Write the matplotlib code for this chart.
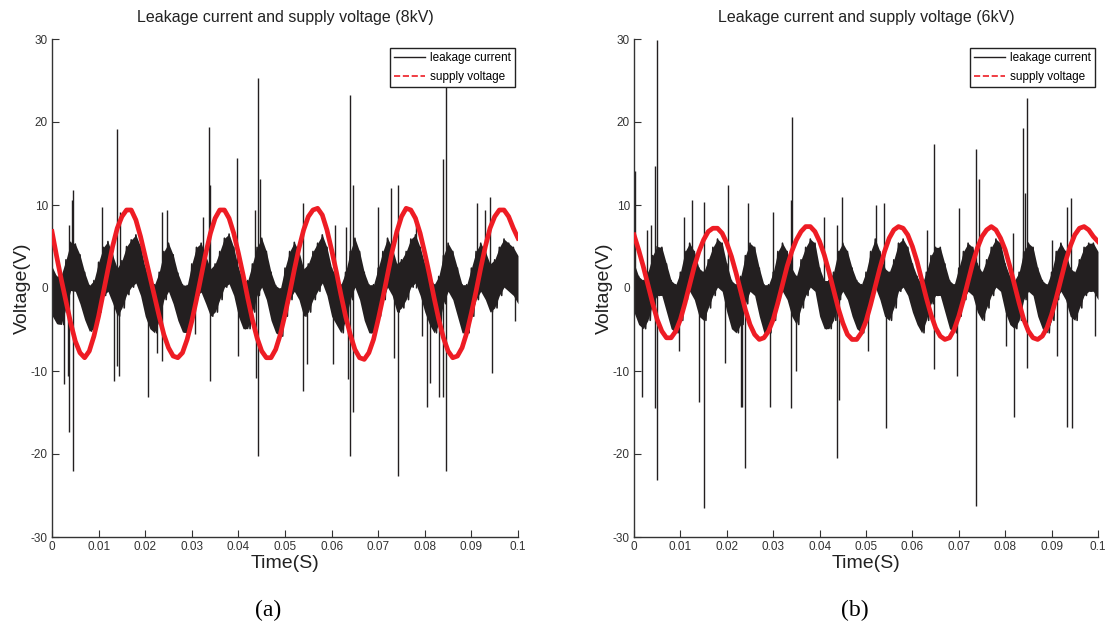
import numpy as np
import matplotlib
matplotlib.use('Agg')
import matplotlib.pyplot as plt
from matplotlib.lines import Line2D

# sample times, one reading per millisecond
time_s = np.arange(101) / 1000.0

# ---- (a) 8kV ----
volt_a = [6.8, 3.8, 1.0, -1.6, -4.2, -6.4, -7.8, -8.4, -7.6, -5.8,
          -3.4, -0.6, 2.2, 5.0, 7.2, 8.6, 9.4, 9.4, 8.2, 6.2,
          3.8, 1.4, -1.0, -3.4, -5.6, -7.2, -8.2, -8.4, -7.8, -6.2,
          -4.0, -1.4, 1.4, 4.2, 6.6, 8.4, 9.4, 9.4, 8.4, 6.6,
          4.2, 1.6, -1.2, -3.8, -6.0, -7.6, -8.4, -8.4, -7.4, -5.6,
          -3.2, -0.6, 2.2, 4.8, 7.0, 8.6, 9.4, 9.6, 8.8, 7.0,
          4.6, 2.0, -0.8, -3.4, -5.6, -7.4, -8.4, -8.6, -7.8, -6.2,
          -3.8, -1.2, 1.6, 4.4, 6.8, 8.6, 9.6, 9.4, 8.4, 6.6,
          4.2, 1.6, -1.2, -3.8, -6.0, -7.6, -8.4, -8.2, -7.2, -5.4,
          -3.0, -0.4, 2.4, 5.0, 7.2, 8.6, 9.4, 9.4, 8.6, 7.2,
          6.0]

leak_hi_a = [2.6, 1.4, 1.6, 3.4, 5.5, 5.3, 4.0, 1.9, 0.3, 0.9,
             3.1, 4.9, 5.6, 4.0, 2.4, 3.3, 5.0, 5.8, 6.4, 5.0,
             2.4, 0.9, 0.4, 1.9, 4.4, 5.4, 4.0, 1.8, 0.4, 0.3,
             2.9, 4.9, 5.4, 3.9, 2.3, 2.9, 4.4, 6.0, 6.5, 4.9,
             2.4, 0.9, 0.9, 2.9, 4.9, 6.0, 4.4, 1.9, 0.3, -0.1,
             2.4, 4.4, 5.5, 4.4, 2.3, 2.9, 4.4, 5.4, 6.4, 4.9,
             2.4, 1.4, 0.4, 1.9, 4.4, 6.0, 4.4, 1.9, 0.4, 0.4,
             2.4, 4.4, 6.0, 4.9, 2.9, 3.4, 4.4, 5.9, 6.4, 4.9,
             2.9, 1.4, 0.4, 1.4, 3.9, 5.4, 4.4, 2.4, 0.4, 0.4,
             2.4, 4.4, 5.4, 4.4, 2.9, 3.4, 4.9, 5.9, 5.4, 4.9,
             3.9]
leak_lo_a = [-3.3, -4.3, -4.4, -2.4, -0.3, -0.4, -1.9, -3.8, -5.2, -4.9,
             -2.9, -0.9, -0.4, -1.8, -3.4, -2.4, -0.8, 0.1, 0.6, -0.9,
             -3.4, -4.9, -5.4, -3.9, -1.4, -0.4, -1.9, -3.9, -5.3, -5.4,
             -2.9, -0.9, -0.5, -1.9, -3.4, -2.9, -1.4, 0.1, 0.5, -0.9,
             -3.4, -4.9, -4.9, -2.9, -0.9, 0.1, -1.4, -3.9, -5.4, -5.8,
             -3.4, -1.4, -0.4, -1.4, -3.4, -2.9, -1.4, -0.4, 0.6, -0.9,
             -3.4, -4.4, -5.4, -3.9, -1.4, 0.1, -1.4, -3.9, -5.4, -5.4,
             -3.4, -1.4, 0.1, -0.9, -2.9, -2.4, -1.4, 0.1, 0.6, -0.9,
             -2.9, -4.4, -5.4, -4.4, -1.9, -0.4, -1.4, -3.4, -5.4, -5.4,
             -3.4, -1.4, -0.4, -1.4, -2.9, -2.4, -0.9, 0.1, -0.4, -0.9,
             -1.9]

spike_t_a = [0.0036, 0.0042, 0.0046, 0.0107, 0.0139, 0.0146, 0.0235, 0.0246,
             0.0325, 0.0337, 0.034, 0.0396, 0.0436, 0.0441, 0.0446, 0.0539,
             0.0607, 0.0631, 0.064, 0.0645, 0.0699, 0.0728, 0.0743, 0.0781,
             0.084, 0.0845, 0.0913, 0.0929, 0.094,
             0.0026, 0.0034, 0.0037, 0.0046, 0.0134, 0.014, 0.0144, 0.0205,
             0.0225, 0.0235, 0.0307, 0.034, 0.04, 0.0438, 0.0442, 0.0539,
             0.0548, 0.0604, 0.0636, 0.064, 0.0645, 0.0734, 0.0743, 0.0793,
             0.0805, 0.0811, 0.0831, 0.084, 0.0845, 0.0944, 0.0993]
spike_v_a = [7.6, 10.6, 11.8, 9.8, 19.2, 9.2, 9.2, 9.4,
             8.6, 19.4, 12.4, 15.7, 9.4, 25.3, 13.1, 10.3,
             7.6, 7.4, 23.3, 12.4, 9.7, 12.0, 12.4, 8.0,
             15.5, 26.0, 10.2, 9.4, 11.0,
             -11.6, -10.6, -17.3, -22.1, -11.2, -9.4, -10.6, -13.1,
             -7.8, -8.8, -5.6, -11.2, -8.2, -10.8, -20.3, -12.4,
             -9.2, -9.2, -11.0, -20.3, -14.9, -8.4, -22.7, -5.8,
             -14.3, -11.4, -13.1, -13.1, -22.1, -10.2, -4.0]

# ---- (b) 6kV ----
volt_b = [6.4, 4.6, 2.6, 0.4, -1.8, -3.8, -5.2, -6.0, -6.0, -5.2,
          -3.8, -1.8, 0.4, 2.6, 4.4, 5.8, 6.8, 7.2, 7.2, 6.6,
          5.4, 3.8, 1.8, -0.4, -2.6, -4.4, -5.6, -6.2, -6.0, -5.2,
          -3.8, -1.8, 0.4, 2.6, 4.4, 5.8, 6.8, 7.4, 7.4, 6.8,
          5.6, 4.0, 2.0, -0.2, -2.4, -4.2, -5.6, -6.2, -6.2, -5.4,
          -4.0, -2.0, 0.2, 2.4, 4.4, 6.0, 7.0, 7.4, 7.2, 6.4,
          5.0, 3.2, 1.0, -1.2, -3.2, -4.8, -5.8, -6.2, -6.0, -5.0,
          -3.4, -1.4, 0.8, 3.0, 4.8, 6.2, 7.0, 7.4, 7.0, 6.0,
          4.6, 2.6, 0.4, -1.8, -3.8, -5.2, -6.0, -6.2, -5.8, -4.8,
          -3.2, -1.2, 1.0, 3.2, 5.0, 6.4, 7.2, 7.4, 7.0, 6.2,
          5.6]

leak_hi_b = [3.0, 1.4, 0.9, 1.9, 3.9, 5.0, 4.9, 2.9, 0.9, 0.4,
             1.9, 4.4, 5.4, 4.4, 2.4, 1.9, 3.4, 4.9, 5.9, 5.4,
             2.9, 0.9, 0.4, 1.4, 3.9, 5.4, 4.9, 2.4, 0.4, 0.4,
             1.9, 4.4, 5.4, 4.4, 2.4, 1.4, 3.4, 4.9, 5.9, 5.4,
             2.4, 0.9, 0.9, 1.9, 4.4, 5.4, 4.4, 2.4, 0.9, 0.4,
             1.9, 4.4, 5.9, 4.4, 2.4, 1.9, 3.4, 5.4, 5.9, 4.9,
             2.9, 1.4, 0.4, 1.9, 3.9, 4.9, 4.9, 2.9, 0.9, 0.4,
             2.4, 4.4, 5.4, 4.9, 2.9, 1.9, 3.4, 4.9, 5.9, 5.4,
             2.9, 1.4, 0.9, 1.9, 4.4, 5.4, 4.9, 2.4, 0.9, 0.4,
             1.9, 4.4, 5.4, 4.4, 2.4, 1.9, 3.4, 4.9, 5.4, 5.4,
             4.4]
leak_lo_b = [-2.9, -4.4, -4.9, -3.9, -1.9, -0.9, -0.9, -2.9, -4.9, -5.4,
             -3.9, -1.4, -0.4, -1.4, -3.4, -3.9, -2.4, -0.9, 0.1, -0.4,
             -2.9, -4.9, -5.4, -4.4, -1.9, -0.4, -0.9, -3.4, -5.4, -5.4,
             -3.9, -1.4, -0.4, -1.4, -3.4, -4.4, -2.4, -0.9, 0.1, -0.4,
             -3.4, -4.9, -4.9, -3.9, -1.4, -0.4, -1.4, -3.4, -4.9, -5.4,
             -3.9, -1.4, 0.1, -1.4, -3.4, -3.9, -2.4, -0.4, 0.1, -0.9,
             -2.9, -4.4, -5.4, -3.9, -1.9, -0.9, -0.9, -2.9, -4.9, -5.4,
             -3.4, -1.4, -0.4, -0.9, -2.9, -3.9, -2.4, -0.9, 0.1, -0.4,
             -2.9, -4.4, -4.9, -3.9, -1.4, -0.4, -0.9, -3.4, -4.9, -5.4,
             -3.9, -1.4, -0.4, -1.4, -3.4, -3.9, -2.4, -0.9, -0.4, -0.4,
             -1.4]

spike_t_b = [0.0003, 0.0028, 0.0036, 0.0046, 0.0049, 0.0107, 0.0125, 0.015,
             0.0203, 0.0246, 0.03, 0.0338, 0.0341, 0.0409, 0.0438, 0.0448,
             0.0522, 0.0538, 0.0632, 0.0647, 0.07, 0.0738, 0.0743, 0.0816,
             0.0838, 0.0842, 0.0847, 0.0901, 0.0933, 0.0941,
             0.0017, 0.0046, 0.0049, 0.0097, 0.014, 0.015, 0.0196, 0.023,
             0.0232, 0.024, 0.0294, 0.0338, 0.035, 0.0438, 0.0441, 0.0504,
             0.0543, 0.0647, 0.0697, 0.0738, 0.0801, 0.082, 0.0847, 0.0911,
             0.0934, 0.0943, 0.0994]
spike_v_b = [14.1, 7.0, 7.6, 14.7, 29.9, 8.6, 10.6, 10.4,
             12.4, 10.2, 9.1, 10.6, 20.6, 8.6, 7.6, 11.0,
             10.0, 10.3, 7.0, 17.3, 9.6, 16.7, 13.1, 6.6,
             19.3, 11.4, 22.9, 5.8, 9.8, 10.8,
             -13.1, -14.5, -23.1, -7.6, -13.7, -26.5, -9.0, -14.3,
             -14.3, -21.7, -14.3, -14.5, -10.0, -20.5, -13.5, -7.6,
             -16.9, -9.8, -10.6, -26.3, -7.0, -15.5, -9.6, -8.2,
             -16.7, -16.9, -5.8]

x_ticks = [0, 0.01, 0.02, 0.03, 0.04, 0.05, 0.06, 0.07, 0.08, 0.09, 0.1]
x_tick_labels = ['0', '0.01', '0.02', '0.03', '0.04', '0.05', '0.06',
                 '0.07', '0.08', '0.09', '0.1']
y_ticks = [-30, -20, -10, 0, 10, 20, 30]

titles = ['Leakage current and supply voltage (8kV)',
          'Leakage current and supply voltage (6kV)']
panel_tags = ['(a)', '(b)']

SANS = 'Liberation Sans'
BLACK = '#231f20'
RED = '#ee1c24'


def draw_panel(ax, title, volt, hi, lo, sp_t, sp_v):
    # dense leakage trace: solid band between the read envelopes,
    # with the raw up/down swing drawn over it
    ax.fill_between(time_s, lo, hi, color=BLACK, lw=0, zorder=2)
    t_zig = np.column_stack([time_s, time_s + 0.0005]).ravel()
    v_zig = np.column_stack([hi, lo]).ravel()
    ax.plot(t_zig, v_zig, color=BLACK, lw=1.2, zorder=2)
    ax.vlines(sp_t, 0, sp_v, color=BLACK, lw=1.0, zorder=2)
    ax.plot(time_s, volt, color=RED, lw=3.4, zorder=3, solid_joinstyle='round')

    ax.set_xlim(0, 0.1)
    ax.set_ylim(-30, 30)
    ax.set_xticks(x_ticks)
    ax.set_xticklabels(x_tick_labels, fontfamily=SANS, fontsize=8.5)
    ax.set_yticks(y_ticks)
    ax.set_yticklabels([str(v) for v in y_ticks], fontfamily=SANS, fontsize=8.5)
    ax.tick_params(direction='in', length=5, width=0.8, colors='#333333', pad=3)
    for side in ['top', 'right']:
        ax.spines[side].set_visible(False)
    for side in ['left', 'bottom']:
        ax.spines[side].set_color('#333333')
        ax.spines[side].set_linewidth(1.0)

    ax.set_title(title, fontfamily=SANS, fontsize=11.5, pad=12, color='#222222')
    ax.set_xlabel('Time(S)', fontfamily=SANS, fontsize=14, labelpad=1, color='#222222')
    ax.set_ylabel('Voltage(V)', fontfamily=SANS, fontsize=14,
                  labelpad=0, color='#222222')

    handles = [Line2D([], [], color=BLACK, lw=1.0),
               Line2D([], [], color=RED, lw=1.2, ls='--')]
    leg = ax.legend(handles, ['leakage current', 'supply voltage'],
                    loc='upper right', bbox_to_anchor=(0.993, 0.982),
                    borderaxespad=0, fancybox=False, framealpha=1,
                    edgecolor='#222222', handlelength=2.6, handletextpad=0.4,
                    labelspacing=0.6, borderpad=0.35,
                    prop={'family': SANS, 'size': 8.5})
    leg.get_frame().set_linewidth(1.0)
    leg.set_zorder(5)


fig = plt.figure(figsize=(11.09, 6.31), dpi=100)
ax_a = fig.add_axes([52 / 1109, 1 - 537 / 631, 466 / 1109, 498 / 631])
ax_b = fig.add_axes([634 / 1109, 1 - 537 / 631, 464 / 1109, 498 / 631])

draw_panel(ax_a, titles[0], volt_a, leak_hi_a, leak_lo_a, spike_t_a, spike_v_a)
draw_panel(ax_b, titles[1], volt_b, leak_hi_b, leak_lo_b, spike_t_b, spike_v_b)

fig.text(268 / 1109, 1 - 610 / 631, panel_tags[0], ha='center', va='center',
         fontfamily='Liberation Serif', fontsize=17)
fig.text(855 / 1109, 1 - 610 / 631, panel_tags[1], ha='center', va='center',
         fontfamily='Liberation Serif', fontsize=17)

fig.savefig('out.png', dpi=100)
